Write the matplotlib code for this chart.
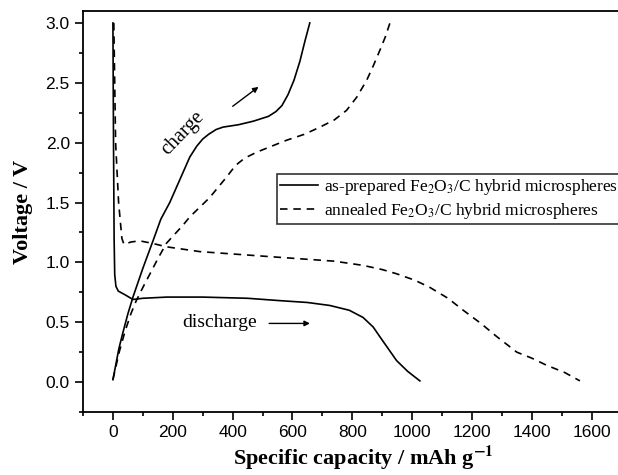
import matplotlib
matplotlib.use("Agg")
import matplotlib.pyplot as plt
import numpy as np

plt.rcParams['mathtext.fontset'] = 'stix'

# as-prepared Fe2O3/C, discharge
asp_dis_x = [0, 2, 4, 6, 10, 18, 40, 67, 100, 180, 300, 450, 560, 650, 725, 790,
             836, 870, 892, 920, 948, 985, 1026]
asp_dis_v = [3.0, 2.0, 1.2, 0.9, 0.80, 0.76, 0.73, 0.69, 0.70, 0.71, 0.71, 0.70,
             0.68, 0.665, 0.64, 0.60, 0.54, 0.46, 0.38, 0.28, 0.18, 0.09, 0.01]
# as-prepared Fe2O3/C, charge
asp_chg_x = [0, 10, 20, 33, 50, 67, 100, 134, 160, 190, 220, 257, 280, 300, 320,
             345, 368, 420, 470, 520, 545, 565, 585, 605, 625, 642, 658]
asp_chg_v = [0.02, 0.15, 0.28, 0.41, 0.57, 0.71, 0.95, 1.18, 1.36, 1.50, 1.67,
             1.88, 1.97, 2.03, 2.07, 2.11, 2.13, 2.15, 2.18, 2.22, 2.26, 2.31,
             2.40, 2.52, 2.68, 2.85, 3.0]
# annealed Fe2O3/C, discharge
ann_dis_x = [3, 9, 19, 30, 37, 60, 89, 130, 179, 290, 457, 625, 740, 836, 900,
             948, 1010, 1060, 1120, 1171, 1230, 1283, 1350, 1400, 1450, 1510, 1561]
ann_dis_v = [3.0, 2.0, 1.5, 1.2, 1.15, 1.17, 1.18, 1.16, 1.13, 1.09, 1.06, 1.03,
             1.01, 0.975, 0.94, 0.905, 0.85, 0.79, 0.70, 0.60, 0.49, 0.38, 0.25,
             0.20, 0.14, 0.08, 0.01]
# annealed Fe2O3/C, charge
ann_chg_x = [0, 10, 22, 40, 60, 78, 100, 123, 150, 179, 234, 257, 290, 323, 379,
             410, 440, 480, 530, 580, 640, 692, 740, 781, 815, 848, 870, 892, 910, 926]
ann_chg_v = [0.02, 0.13, 0.26, 0.42, 0.57, 0.68, 0.79, 0.90, 1.03, 1.16, 1.31,
             1.38, 1.46, 1.54, 1.71, 1.81, 1.87, 1.92, 1.97, 2.02, 2.07, 2.13,
             2.19, 2.27, 2.38, 2.52, 2.64, 2.77, 2.88, 3.0]

labels = [r'as-prepared Fe$_2$O$_3$/C hybrid microspheres',
          r'annealed Fe$_2$O$_3$/C hybrid microspheres']

fig = plt.figure(figsize=(6.18, 4.75), dpi=100)
ax = fig.add_axes([83 / 618, 1 - 412 / 475, (621.5 - 83) / 618, (412 - 11) / 475])

ax.plot(asp_dis_x, asp_dis_v, color='black', lw=1.2, label=labels[0])
ax.plot(asp_chg_x, asp_chg_v, color='black', lw=1.2)
ax.plot(ann_dis_x, ann_dis_v, color='black', lw=1.2, ls=(0, (4.5, 3.5)), label=labels[1])
ax.plot(ann_chg_x, ann_chg_v, color='black', lw=1.2, ls=(0, (4.5, 3.5)))

ax.set_xlim(-100, 1700)
ax.set_ylim(-0.25, 3.1)
ax.set_xticks(np.arange(0, 1601, 200))
ax.set_xticks(np.arange(-100, 1701, 100), minor=True)
ax.set_yticks(np.arange(0, 3.01, 0.5))
ax.set_yticks(np.arange(-0.25, 3.01, 0.25), minor=True)
ax.yaxis.set_major_formatter(matplotlib.ticker.FormatStrFormatter('%.1f'))
ax.tick_params(which='major', direction='out', length=6, width=1.2,
               labelsize=12.5, top=False, right=False)
ax.tick_params(which='minor', direction='out', length=3, width=1.2,
               top=False, right=False)
for lbl in ax.get_xticklabels() + ax.get_yticklabels():
    lbl.set_family('Liberation Sans')
for sp in ax.spines.values():
    sp.set_linewidth(1.3)

ax.set_xlabel(r'Specific capacity / mAh g$^{\mathbf{-1}}$', family='Liberation Serif',
              fontsize=16, fontweight='bold')
ax.xaxis.set_label_coords(0.52, -0.08)
ax.set_ylabel('Voltage / V', family='Liberation Serif', fontsize=16, fontweight='bold')
ax.yaxis.set_label_coords(-0.093, 0.5)

ax.text(357, 0.50, 'discharge', family='Liberation Serif', fontsize=14,
        ha='center', va='center')
ax.annotate('', xy=(668, 0.49), xytext=(513, 0.49),
            arrowprops=dict(arrowstyle='-|>', color='black', lw=1.0, mutation_scale=8))
ax.text(235, 2.08, 'charge', family='Liberation Serif', fontsize=14.5,
        ha='center', va='center', rotation=46)
ax.annotate('', xy=(494, 2.48), xytext=(393, 2.29),
            arrowprops=dict(arrowstyle='-|>', color='black', lw=1.0, mutation_scale=8))

leg = ax.legend(loc='upper left', bbox_to_anchor=((276.7 - 83) / 538.5, (412 - 174) / 401),
                prop={'family': 'Liberation Serif', 'size': 12.5}, frameon=True,
                fancybox=False, edgecolor='black', handlelength=2.2,
                handletextpad=0.3, borderpad=0.2, labelspacing=0.2, borderaxespad=0)
leg.get_frame().set_linewidth(1.2)

fig.savefig('out.png', dpi=100)
